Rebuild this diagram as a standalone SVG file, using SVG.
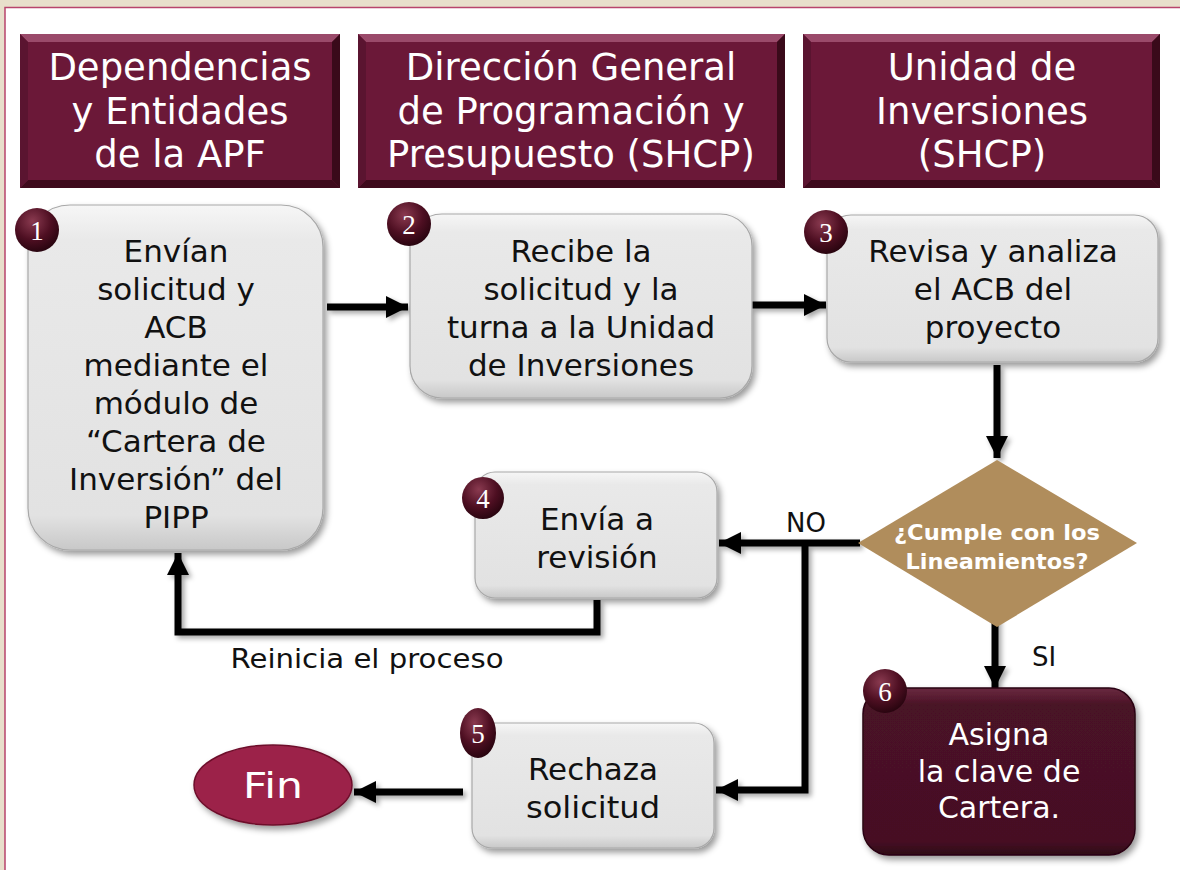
<svg xmlns="http://www.w3.org/2000/svg" width="1180" height="870" viewBox="0 0 1180 870">
<defs>
<style>
.hd{font-family:"DejaVu Sans","Liberation Sans",sans-serif;font-size:37px;fill:#fff;text-anchor:middle}
.tx{font-family:"DejaVu Sans","Liberation Sans",sans-serif;font-size:31px;fill:#111;text-anchor:middle}
.tw{font-family:"DejaVu Sans","Liberation Sans",sans-serif;font-size:30px;fill:#fff;text-anchor:middle}
.bd{font-family:"Liberation Serif","DejaVu Serif",serif;font-size:27px;fill:#fff;text-anchor:middle}
.lb{font-family:"DejaVu Sans","Liberation Sans",sans-serif;font-size:26px;fill:#111;text-anchor:middle}
.gbox{fill:url(#gg);stroke:#a8a8a8;stroke-width:1.2;filter:url(#sh)}
.hbox{fill:#6b1838}
.con{fill:none;stroke:#000;stroke-width:7;marker-end:url(#ah)}
</style>
<linearGradient id="gg" x1="0" y1="0" x2="0" y2="1">
<stop offset="0" stop-color="#f6f6f6"/>
<stop offset="0.1" stop-color="#e9e9e9"/>
<stop offset="0.9" stop-color="#e2e2e2"/>
<stop offset="1" stop-color="#c8c8c8"/>
</linearGradient>
<linearGradient id="mg" x1="0" y1="0" x2="0" y2="1">
<stop offset="0" stop-color="#6a2a40"/>
<stop offset="0.1" stop-color="#4a1226"/>
<stop offset="0.92" stop-color="#461024"/>
<stop offset="1" stop-color="#2e0816"/>
</linearGradient>
<radialGradient id="bg" cx="0.4" cy="0.3" r="0.7">
<stop offset="0" stop-color="#8a3a50"/>
<stop offset="0.6" stop-color="#4e0f22"/>
<stop offset="1" stop-color="#2a0510"/>
</radialGradient>
<filter id="sh" x="-10%" y="-10%" width="125%" height="125%">
<feDropShadow dx="3" dy="4" stdDeviation="3" flood-color="#000" flood-opacity="0.4"/>
</filter>
<filter id="sh2" x="-10%" y="-10%" width="125%" height="125%">
<feDropShadow dx="3" dy="3" stdDeviation="2.5" flood-color="#000" flood-opacity="0.35"/>
</filter>
<marker id="ah" viewBox="0 0 10 10" refX="10" refY="5" markerWidth="22" markerHeight="22" markerUnits="userSpaceOnUse" orient="auto">
<path d="M0,0 L10,5 L0,10 z" fill="#000"/>
</marker>
</defs>

<rect x="0" y="0" width="1180" height="870" fill="#e8dfcb"/>
<rect x="5" y="7.5" width="1180" height="870" fill="#fff" stroke="#b8446c" stroke-width="1.5"/>

<g id="header1">
<rect class="hbox" x="20" y="34" width="320" height="154"/>
<polygon points="20,34 340,34 332,42 28,42" fill="#9a4a6a"/>
<polygon points="20,188 340,188 332,180 28,180" fill="#3e0a1c"/>
<polygon points="20,34 28,42 28,180 20,188" fill="#5a1430"/>
<polygon points="340,34 332,42 332,180 340,188" fill="#3a0a1a"/>
<text class="hd" x="180" y="80">Dependencias</text>
<text class="hd" x="180" y="124">y Entidades</text>
<text class="hd" x="180" y="167">de la APF</text>
</g>
<g id="header2">
<rect class="hbox" x="358" y="34" width="427" height="154"/>
<polygon points="358,34 785,34 777,42 366,42" fill="#9a4a6a"/>
<polygon points="358,188 785,188 777,180 366,180" fill="#3e0a1c"/>
<polygon points="358,34 366,42 366,180 358,188" fill="#5a1430"/>
<polygon points="785,34 777,42 777,180 785,188" fill="#3a0a1a"/>
<text class="hd" x="571" y="80">Dirección General</text>
<text class="hd" x="571" y="124">de Programación y</text>
<text class="hd" x="571" y="167">Presupuesto (SHCP)</text>
</g>
<g id="header3">
<rect class="hbox" x="803" y="34" width="357" height="154"/>
<polygon points="803,34 1160,34 1152,42 811,42" fill="#9a4a6a"/>
<polygon points="803,188 1160,188 1152,180 811,180" fill="#3e0a1c"/>
<polygon points="803,34 811,42 811,180 803,188" fill="#5a1430"/>
<polygon points="1160,34 1152,42 1152,180 1160,188" fill="#3a0a1a"/>
<text class="hd" x="982" y="80">Unidad de</text>
<text class="hd" x="982" y="124">Inversiones</text>
<text class="hd" x="982" y="167">(SHCP)</text>
</g>

<g id="connectors">
<g filter="url(#sh2)">
<path class="con" d="M327,307 H408"/>
<path class="con" d="M752,305 H826"/>
<path class="con" d="M997,365 V458"/>
<path class="con" d="M860,543 H719"/>
<path class="con" d="M805,543 V790 H716"/>
<path class="con" d="M995,617 V688"/>
<path class="con" d="M597,600 V632 H178 V553"/>
<path class="con" d="M463,792 H354"/>
</g>
<text class="lb" x="806" y="532">NO</text>
<text class="lb" x="1044" y="666">SI</text>
<text class="lb" x="367" y="668" textLength="273" lengthAdjust="spacingAndGlyphs">Reinicia el proceso</text>
</g>

<g id="step1">
<rect class="gbox" x="28" y="205" width="295" height="345" rx="42"/>
<text class="tx" x="176" y="262">Envían</text>
<text class="tx" x="176" y="300">solicitud y</text>
<text class="tx" x="176" y="338">ACB</text>
<text class="tx" x="176" y="376">mediante el</text>
<text class="tx" x="176" y="414">módulo de</text>
<text class="tx" x="176" y="452">“Cartera de</text>
<text class="tx" x="176" y="490">Inversión” del</text>
<text class="tx" x="176" y="528">PIPP</text>
<circle cx="37" cy="230" r="22" fill="url(#bg)"/>
<text class="bd" x="37" y="240">1</text>
</g>

<g id="step2">
<rect class="gbox" x="410" y="214" width="342" height="184" rx="32"/>
<text class="tx" x="581" y="262">Recibe la</text>
<text class="tx" x="581" y="300">solicitud y la</text>
<text class="tx" x="581" y="338">turna a la Unidad</text>
<text class="tx" x="581" y="376">de Inversiones</text>
<circle cx="409" cy="224" r="22" fill="url(#bg)"/>
<text class="bd" x="409" y="234">2</text>
</g>

<g id="step3">
<rect class="gbox" x="827" y="215" width="331" height="147" rx="24"/>
<text class="tx" x="993" y="262">Revisa y analiza</text>
<text class="tx" x="993" y="300">el ACB del</text>
<text class="tx" x="993" y="338">proyecto</text>
<circle cx="826" cy="232" r="22" fill="url(#bg)"/>
<text class="bd" x="826" y="242">3</text>
</g>

<g id="decision">
<polygon points="997,460 1137,543 997,627 858,543" fill="#b08d5c"/>
<text x="997" y="540" font-family="DejaVu Sans, Liberation Sans, sans-serif" font-size="21" font-weight="bold" fill="#fff" text-anchor="middle" textLength="206" lengthAdjust="spacingAndGlyphs">¿Cumple con los</text>
<text x="997" y="569" font-family="DejaVu Sans, Liberation Sans, sans-serif" font-size="21" font-weight="bold" fill="#fff" text-anchor="middle" textLength="183" lengthAdjust="spacingAndGlyphs">Lineamientos?</text>
</g>

<g id="step4">
<rect class="gbox" x="475" y="472" width="242" height="126" rx="20"/>
<text class="tx" x="597" y="530">Envía a</text>
<text class="tx" x="597" y="568">revisión</text>
<circle cx="483" cy="498" r="21" fill="url(#bg)"/>
<text class="bd" x="483" y="508">4</text>
</g>

<g id="step5">
<rect class="gbox" x="472" y="723" width="242" height="125" rx="20"/>
<text class="tx" x="593" y="780" textLength="130" lengthAdjust="spacingAndGlyphs">Rechaza</text>
<text class="tx" x="593" y="818" textLength="134" lengthAdjust="spacingAndGlyphs">solicitud</text>
<ellipse cx="478" cy="733" rx="18" ry="25" fill="url(#bg)"/>
<text class="bd" x="478" y="743">5</text>
</g>

<g id="step6">
<rect x="863" y="688" width="272" height="167" rx="26" fill="url(#mg)" stroke="#2a0512" stroke-width="1.5" filter="url(#sh)"/>
<text class="tw" x="999" y="745">Asigna</text>
<text class="tw" x="999" y="782">la clave de</text>
<text class="tw" x="999" y="818">Cartera.</text>
<circle cx="885" cy="691" r="22" fill="url(#bg)"/>
<text class="bd" x="885" y="701">6</text>
</g>

<g id="fin">
<ellipse cx="273" cy="785" rx="79" ry="40" fill="#9c2448" stroke="#6e0f2c" stroke-width="1.5" filter="url(#sh)"/>
<text x="273" y="798" font-family="DejaVu Sans, Liberation Sans, sans-serif" font-size="36" fill="#fff" text-anchor="middle" textLength="60" lengthAdjust="spacingAndGlyphs">Fin</text>
</g>
</svg>
